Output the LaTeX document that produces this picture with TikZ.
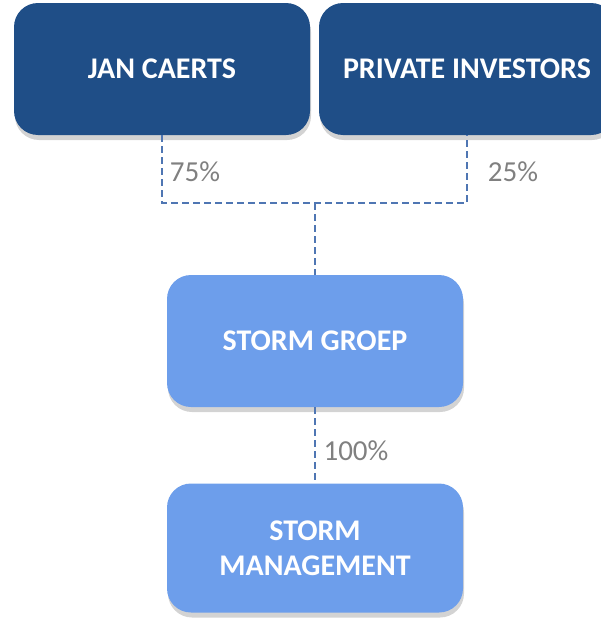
\documentclass[tikz,border=0pt]{standalone}
\usepackage{fontspec}
\setmainfont{Carlito}
\usetikzlibrary{shadows}

\definecolor{ownerblue}{HTML}{1F4E87}
\definecolor{groupblue}{HTML}{6D9EEB}
\definecolor{linkblue}{HTML}{4F76B3}
\definecolor{sharegray}{HTML}{808080}

\begin{document}
\begin{tikzpicture}[x=1pt,y=-1pt]
	\useasboundingbox (0,0) rectangle (601,621);
	\clip (0,0) rectangle (601,621);

	\begin{scope}[every node/.style={rounded corners=24pt,minimum width=296pt,minimum height=132pt,text=white,align=center,font=\bfseries\fontsize{30}{35}\selectfont,drop shadow={shadow xshift=1pt,shadow yshift=-5pt,opacity=0.35}}]
		\node[fill=ownerblue] (JC) at (162,69) {JAN CAERTS};
		\node[fill=ownerblue] (PI) at (467,69) {PRIVATE INVESTORS};
		\node[fill=groupblue] (SG) at (315,341) {STORM GROEP};
		\node[fill=groupblue,minimum height=129pt] (SM) at (315,548) {STORM\\MANAGEMENT};
	\end{scope}

	\coordinate (J) at (315,203);

	\begin{scope}[every path/.style={draw=linkblue,line width=2.4pt,dash pattern=on 7pt off 4pt}]
		\path (JC.south) |- (J) -| (PI.south);
		\path (J) -- (SG.north);
		\path (SG.south) -- (SM.north);
	\end{scope}

	\begin{scope}[every node/.style={text=sharegray,font=\fontsize{29}{32}\selectfont}]
		\node (p75) at (195,172) {75\%};
		\node (p25) at (513,172) {25\%};
		\node (p100) at (356,451) {100\%};
	\end{scope}
\end{tikzpicture}
\end{document}
